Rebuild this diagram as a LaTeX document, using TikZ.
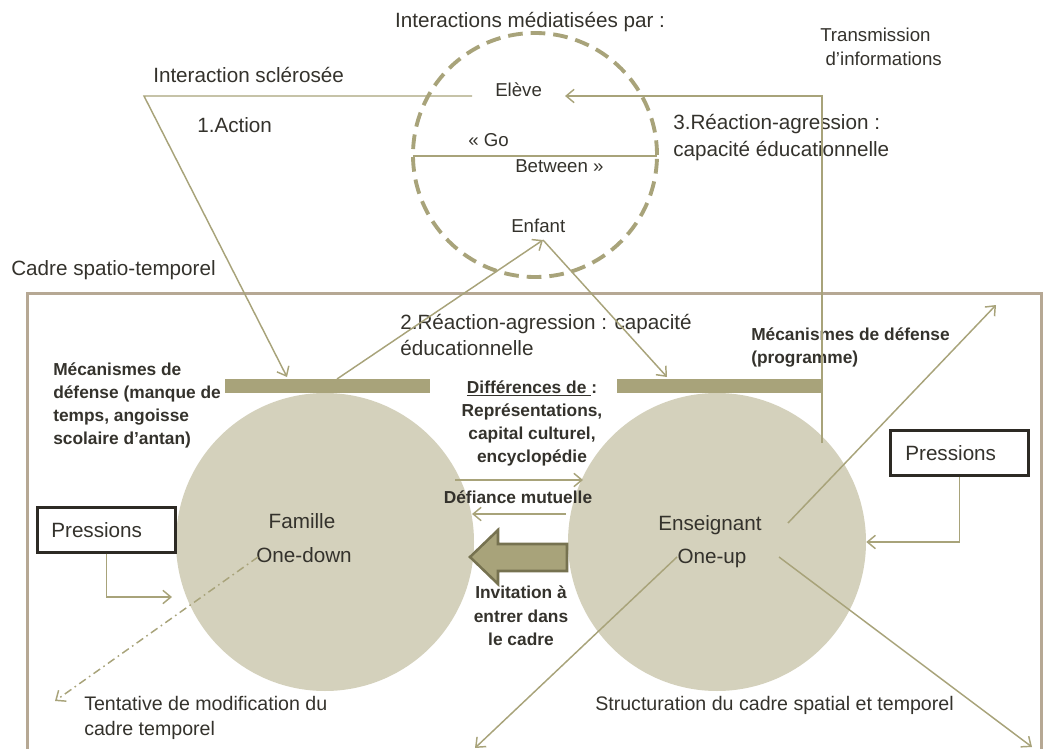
\documentclass[tikz,border=0pt]{standalone}
\usepackage{fontspec}
\setmainfont{Liberation Sans}
\usetikzlibrary{arrows.meta}
\definecolor{linec}{RGB}{168,163,122}
\definecolor{barc}{RGB}{168,163,122}
\definecolor{bard}{RGB}{118,114,80}
\definecolor{circf}{RGB}{212,209,188}
\definecolor{framec}{RGB}{182,168,148}
\definecolor{textc}{RGB}{52,50,44}
\definecolor{boxc}{RGB}{45,42,36}
\begin{document}
\begin{tikzpicture}[x=0.75pt,y=-0.75pt,
  txt/.style={font=\fontsize{15.5}{19.5}\selectfont, text=textc, inner sep=0pt},
  stxt/.style={font=\fontsize{14}{18}\selectfont, text=textc, inner sep=0pt},
  btxt/.style={font=\bfseries\fontsize{13}{17.25}\selectfont, text=textc, inner sep=0pt},
  ln/.style={draw=linec, line width=1.1pt},
  tip/.style={-{Straight Barb[length=6pt,width=10pt]}},
  disc/.style={circle, fill=circf, minimum size=223.5pt, inner sep=0pt},
  barnode/.style={fill=barc, minimum width=153.75pt, minimum height=10.5pt, inner sep=0pt, anchor=north west},
  pbox/.style={draw=boxc, line width=2pt, fill=white, font=\fontsize{15.5}{19.5}\selectfont, text=textc,
    minimum height=33.75pt, inner xsep=10.5pt, text width=82.5pt, align=left, anchor=north west}]
\useasboundingbox (0,0) rectangle (1043,749);

% spatio-temporal frame
\draw[framec, line width=2.25pt] (27,780) -- (27,293) -- (1041,293) -- (1041,780);
\node[txt, anchor=west] (cadre) at (11,270) {Cadre spatio-temporel};

% the two partners
\node[disc] (fam) at (325,542) {};
\node[disc] (ens) at (717,542) {};
\node[txt] (famt) at (302,521) {Famille};
\node[txt] (famd) at (304,555) {One-down};
\node[txt] (enst) at (710,525) {Enseignant};
\node[txt] (ensu) at (712,558) {One-up};

% defence bars
\node[barnode] (barL) at (225,379) {};
\node[barnode] (barR) at (617,379) {};

% go-between circle
\node[circle, draw=linec, line width=2.9pt, dash pattern=on 11pt off 6pt, minimum size=183pt, inner sep=0pt] (gb) at (535,155) {};
\node[txt] (title) at (530,22) {Interactions médiatisées par :};
\node[stxt, anchor=west] (eleve) at (495,90) {Elève};
\node[stxt, anchor=west] (go) at (468,140) {« Go};
\node[stxt, anchor=west] (betw) at (515,166) {Between »};
\node[stxt, anchor=west] (enfant) at (511,226) {Enfant};
\coordinate (gbL) at (413,156);
\coordinate (gbR) at (657,156);
\draw[ln] (gbL) -- (gbR);

% labels above the frame
\node[txt, anchor=west] (scl) at (153,75) {Interaction sclérosée};
\node[txt, anchor=west] (act) at (197,125) {1.Action};
\node[stxt, anchor=west, align=left, font=\fontsize{14}{18}\selectfont] (trans) at (820,47) {Transmission\\\hspace{4pt}d’informations};
\node[txt, anchor=west, align=left, font=\fontsize{15.5}{20.25}\selectfont] (rea3) at (673,138) {3.Réaction-agression :\\capacité éducationnelle};
\node[txt, anchor=west, align=left] (rea2) at (400,335) {2.Réaction-agression : capacité\\éducationnelle};

% defence mechanisms
\node[btxt, anchor=west, align=left] (mecL) at (53,405.5) {Mécanismes de\\défense (manque de\\temps, angoisse\\scolaire d’antan)};
\node[btxt, anchor=west, align=left] (mecR) at (751,347) {Mécanismes de défense\\(programme)};

% between the partners
\node[btxt, align=center] (diff) at (532,423) {\underline{Différences de }:\\Représentations,\\capital culturel,\\encyclopédie};
\node[btxt] (defi) at (518,497) {Défiance mutuelle};
\node[btxt, align=center, font=\bfseries\fontsize{13}{17.6}\selectfont] (invit) at (521,616) {Invitation à\\entrer dans\\le cadre};
\coordinate (d1a) at (455,480);
\coordinate (d1b) at (583,480);
\coordinate (d2a) at (566,514);
\coordinate (d2b) at (472,514);
\draw[ln, tip] (d1a) -- (d1b);
\draw[ln, tip] (d2a) -- (d2b);
\coordinate (ba) at (470,557);
\draw[fill=barc, draw=bard, line width=1.9pt, line join=miter]
  (ba) -- (498,530) -- (498,544) -- (567,544) -- (567,571) -- (498,571) -- (498,584) -- cycle;

% pressures
\node[pbox] (pl) at (36,506) {Pressions};
\node[pbox, inner xsep=11.25pt, text width=81pt] (pr) at (889,429) {Pressions};
\coordinate (plT) at (172,597);
\draw[ln, tip] (pl.south) |- (plT);
\draw[ln, tip] (pr.south) |- (ens.east);

% lower labels
\node[txt, anchor=west, align=left, font=\fontsize{14.7}{18.75}\selectfont] (tent) at (84,717.5) {Tentative de modification du\\cadre temporel};
\node[txt, anchor=west, font=\fontsize{14.7}{18.75}\selectfont] (struct) at (595,705) {Structuration du cadre spatial et temporel};

% interaction connectors
\coordinate (s0) at (472,96);
\coordinate (s1) at (144,96);
\coordinate (s2) at (287,377);
\draw[ln, tip] (s0) -- (s1) -- (s2);
\coordinate (t0) at (822,443);
\coordinate (t1) at (822,96);
\coordinate (t2) at (565,96);
\draw[ln, tip] (t0) -- (t1) -- (t2);
\coordinate (r0) at (337,379);
\coordinate (r1) at (543,240);
\coordinate (r2) at (667,377);
\draw[ln, tip] (r0) -- (r1);
\draw[ln, tip] (r1) -- (r2);

% temporal frame attempt (family)
\coordinate (m0) at (258,557);
\coordinate (m1) at (55,701);
\draw[ln, tip, dash pattern=on 6pt off 3pt on 1.2pt off 3pt] (m0) -- (m1);

% structuring of the frame (teacher)
\coordinate (e0) at (788,523);
\coordinate (e1) at (996,305);
\coordinate (e2) at (677,557);
\coordinate (e3) at (475,748);
\coordinate (e4) at (779,557);
\coordinate (e5) at (1032,747);
\draw[ln, tip] (e0) -- (e1);
\draw[ln, tip] (e2) -- (e3);
\draw[ln, tip] (e4) -- (e5);
\end{tikzpicture}
\end{document}
